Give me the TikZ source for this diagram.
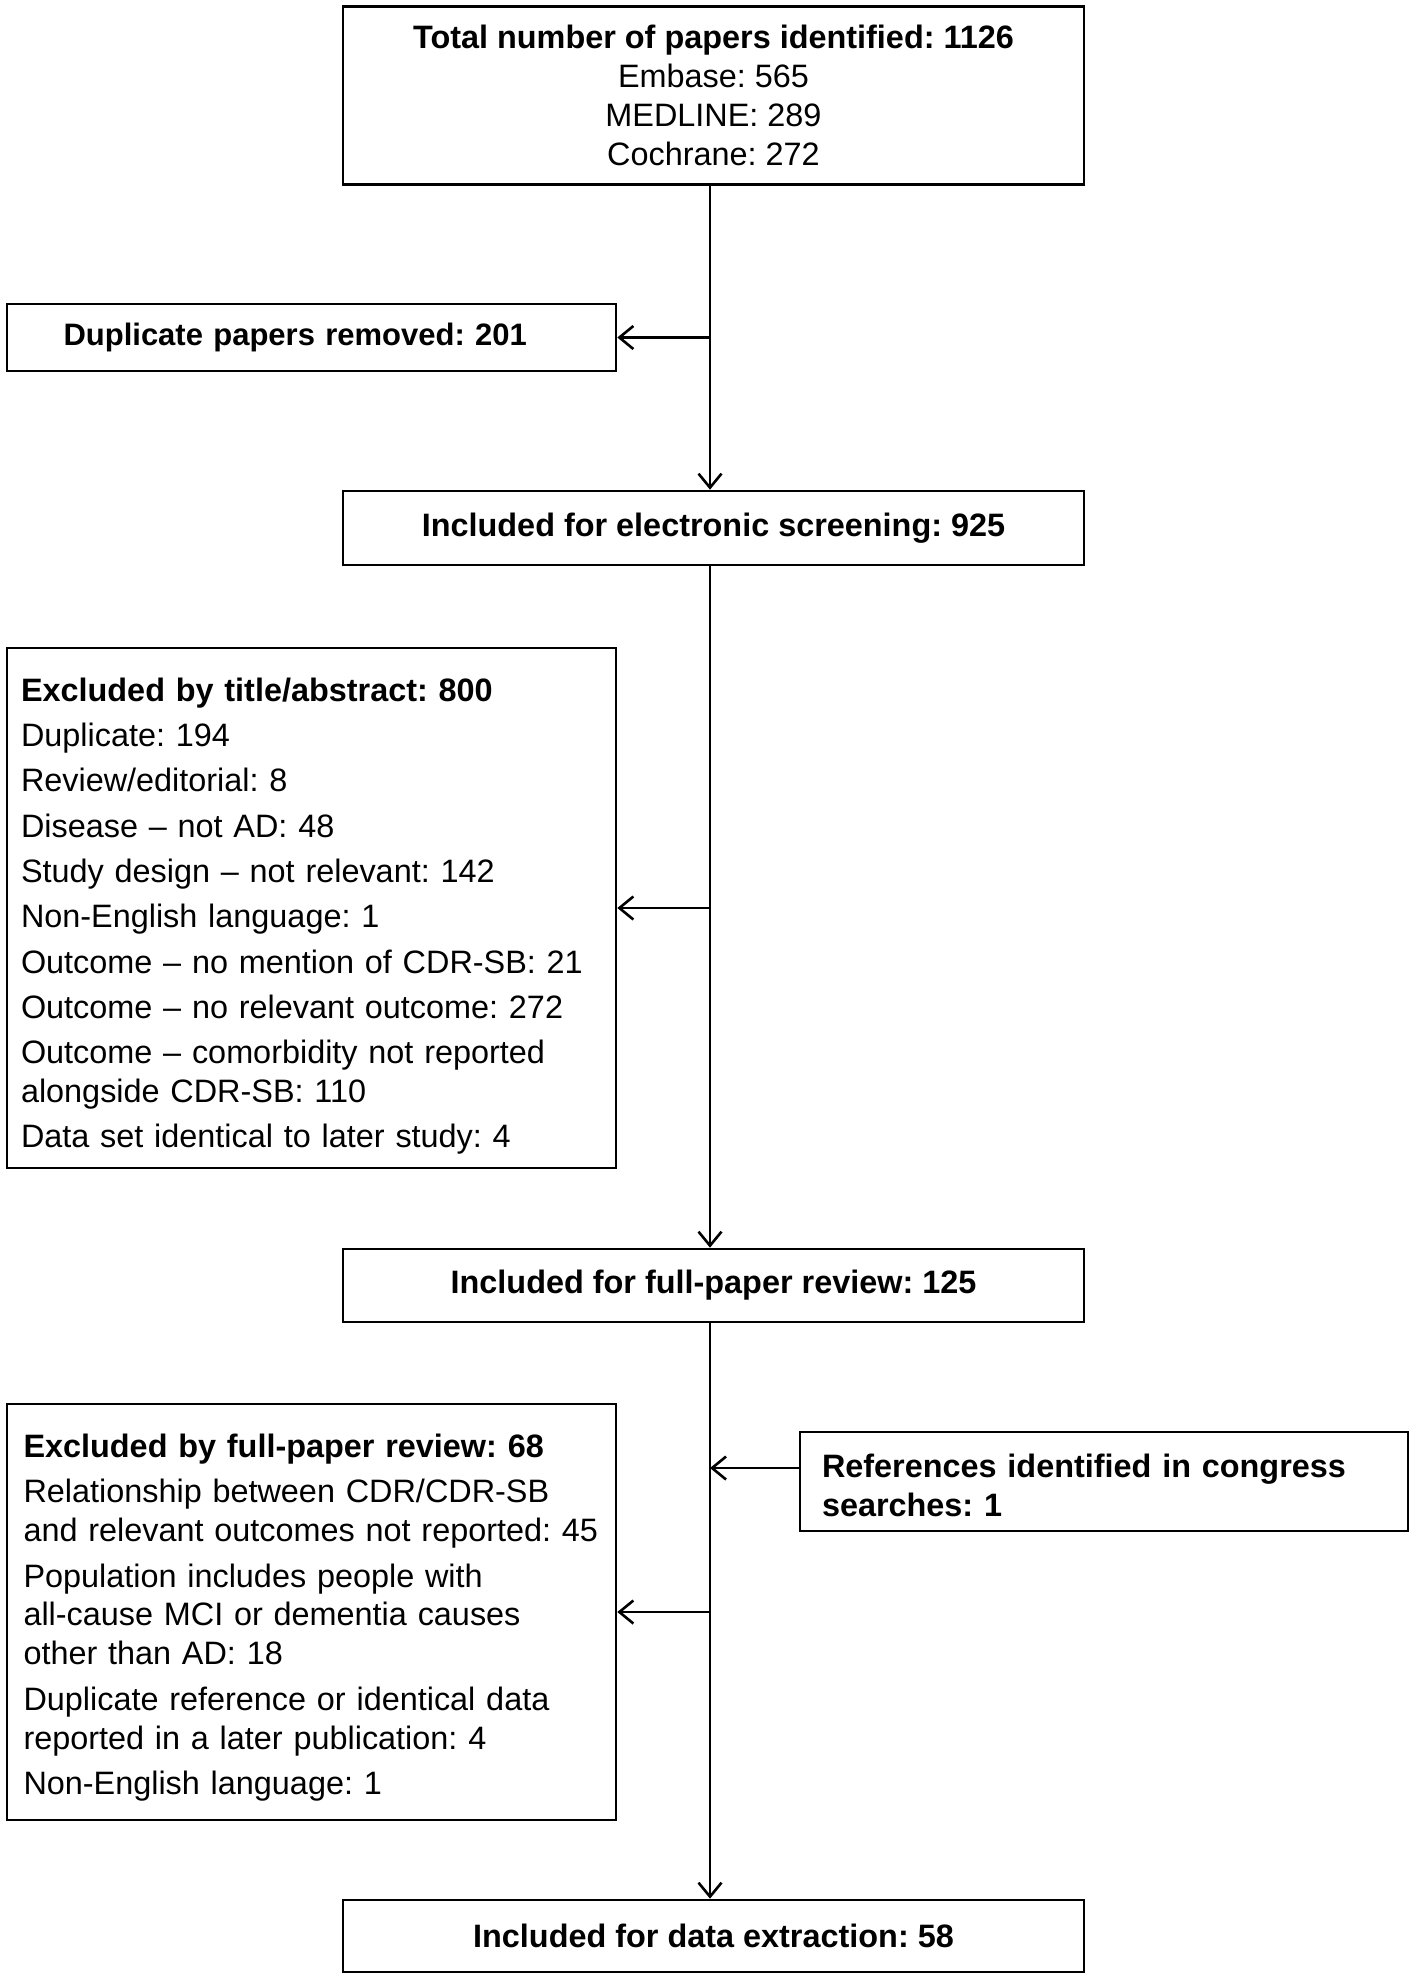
\documentclass[tikz,border=0pt]{standalone}
\usepackage{fontspec}
\setmainfont{Liberation Sans}
\usetikzlibrary{arrows.meta,calc}
\frenchspacing
\begin{document}
\begin{tikzpicture}[x=1pt,y=-1pt,
  box/.style={draw, line width=2.6pt, rectangle, inner sep=0pt, font=\fontsize{32.4pt}{38.9pt}\selectfont},
  cbox/.style={box, align=center, minimum width=741pt},
  lbox/.style={box, align=left},
  arr/.style={line width=2.6pt, -{Straight Barb[length=14pt,width=23pt,line width=2.6pt]}}]
\useasboundingbox (0,0) rectangle (1417,1981);
\fill[white] (0,0) rectangle (1417,1981);
\coordinate (lx) at (710,0);
\node[cbox, minimum height=178pt] (top) at (713.5,95.3)
  {\textbf{Total number of papers identified: 1126}\\Embase: 565\\MEDLINE: 289\\Cochrane: 272};
\node[lbox, minimum height=67pt, text width=496pt, inner xsep=56.5pt, font=\fontsize{31pt}{37pt}\selectfont\bfseries] (dup) at (311.5,337.5)
  {Duplicate papers removed: 201};
\node[cbox, minimum height=74pt] (scr) at (713.5,528)
  {\textbf{Included for electronic screening: 925}};
\node[lbox, minimum height=520pt, text width=581pt, inner xsep=14pt] (ex1) at (311.5,908)
  {\rule{0pt}{40pt}\textbf{Excluded by title/abstract: 800}\\[6.4pt]
   Duplicate: 194\\[6.4pt]
   Review/editorial: 8\\[6.4pt]
   Disease -- not AD: 48\\[6.4pt]
   Study design -- not relevant: 142\\[6.4pt]
   Non-English language: 1\\[6.4pt]
   Outcome -- no mention of CDR-SB: 21\\[6.4pt]
   Outcome -- no relevant outcome: 272\\[6.4pt]
   Outcome -- comorbidity not reported\\
   alongside CDR-SB: 110\\[6.4pt]
   Data set identical to later study: 4};
\node[cbox, minimum height=73pt] (full) at (713.5,1285.5)
  {\textbf{Included for full-paper review: 125}};
\node[lbox, minimum height=416pt, text width=576pt, inner xsep=16.5pt] (ex2) at (311.5,1612)
  {\rule{0pt}{34.5pt}\textbf{Excluded by full-paper review: 68}\\[6.4pt]
   Relationship between CDR/CDR-SB\\
   and relevant outcomes not reported: 45\\[6.4pt]
   Population includes people with\\
   all-cause MCI or dementia causes\\
   other than AD: 18\\[6.4pt]
   Duplicate reference or identical data\\
   reported in a later publication: 4\\[6.4pt]
   Non-English language: 1};
\node[lbox, minimum height=99pt, text width=564pt, inner xsep=22pt, font=\fontsize{32.4pt}{38.9pt}\selectfont\bfseries] (ref) at (1104,1481.5)
  {\rule{0pt}{31.5pt}References identified in congress\\searches: 1};
\node[cbox, minimum height=72pt] (fin) at (713.5,1936)
  {\textbf{Included for data extraction: 58}};
% connectors
\draw[arr] (top.south -| lx) -- (scr.north -| lx);
\draw[arr] (dup.east -| lx) -- (dup.east);
\draw[arr] (scr.south -| lx) -- (full.north -| lx);
\draw[arr] (ex1.east -| lx) -- (ex1.east);
\draw[arr] (full.south -| lx) -- (fin.north -| lx);
\draw[arr] (ex2.east -| lx) -- (ex2.east);
\coordinate (refa) at ($(ref.west)+(0,-13.5)$);
\draw[arr] (refa) -- (refa -| lx);
\end{tikzpicture}
\end{document}
